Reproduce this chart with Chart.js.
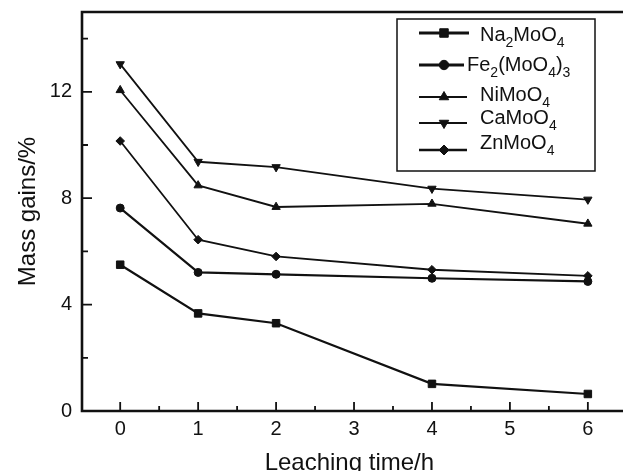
<!DOCTYPE html>
<html>
<head>
<meta charset="utf-8">
<script src="https://cdn.jsdelivr.net/npm/chart.js@4/dist/chart.umd.min.js"></script>
<style>
  html, body { margin: 0; padding: 0; background: #fff; overflow: hidden; }
  #wrap { width: 623px; height: 471px; position: relative; }
</style>
</head>
<body>
<div id="wrap"><canvas id="grafico"></canvas></div>
<script>
'use strict';

// datos
const horas = [0, 1, 2, 4, 6];
const naMoO4 = [5.50, 3.67, 3.30, 1.02, 0.64];
const feMoO4 = [7.63, 5.21, 5.14, 4.99, 4.87];
const niMoO4 = [12.06, 8.48, 7.67, 7.79, 7.04];
const caMoO4 = [13.04, 9.37, 9.17, 8.36, 7.95];
const znMoO4 = [10.15, 6.44, 5.81, 5.31, 5.08];

const ticksX = [0, 1, 2, 3, 4, 5, 6];
const ticksXmenor = [0.5, 1.5, 2.5, 3.5, 4.5, 5.5];
const ticksY = [0, 4, 8, 12];
const ticksYmenor = [2, 6, 10, 14];

// [texto, es subindice]
const etiquetas = [
  [['Na', 0], ['2', 1], ['MoO', 0], ['4', 1]],
  [['Fe', 0], ['2', 1], ['(MoO', 0], ['4', 1], [')', 0], ['3', 1]],
  [['NiMoO', 0], ['4', 1]],
  [['CaMoO', 0], ['4', 1]],
  [['ZnMoO', 0], ['4', 1]]
];
const nombres = ['Na2MoO4', 'Fe2(MoO4)3', 'NiMoO4', 'CaMoO4', 'ZnMoO4'];
const series = [naMoO4, feMoO4, niMoO4, caMoO4, znMoO4];
const estilos = ['rect', 'circle', 'triangle', 'triangle', 'rectRot'];
const giros = [0, 0, 0, 180, 0];
const grosor = [2.2, 2.2, 1.8, 1.8, 1.8];
const radios = [5.3, 4, 4.8, 4.8, 4.3];

const fuente = '"Liberation Sans", Arial, Helvetica, sans-serif';

function puntos(valores) {
  return horas.map((h, i) => ({ x: h, y: valores[i] }));
}

const datasets = series.map((s, i) => ({
  label: nombres[i],
  data: puntos(s),
  borderColor: '#111',
  backgroundColor: '#111',
  borderWidth: grosor[i],
  pointStyle: estilos[i],
  pointRotation: giros[i],
  pointRadius: radios[i],
  pointBorderWidth: 1,
  tension: 0
}));

// marco, ticks hacia dentro y leyenda
const marco = {
  id: 'marco',
  afterDraw(chart) {
    const ctx = chart.ctx;
    const a = chart.chartArea;
    const sx = chart.scales.x, sy = chart.scales.y;
    ctx.save();
    ctx.strokeStyle = '#111';
    ctx.lineWidth = 2.6;
    ctx.beginPath();
    ctx.moveTo(chart.width, a.top);
    ctx.lineTo(a.left, a.top);
    ctx.lineTo(a.left, a.bottom);
    ctx.lineTo(chart.width, a.bottom);
    ctx.stroke();

    ctx.lineWidth = 1.8;
    ctx.beginPath();
    ticksY.forEach(v => { const y = sy.getPixelForValue(v); ctx.moveTo(a.left, y); ctx.lineTo(a.left + 10, y); });
    ticksYmenor.forEach(v => { const y = sy.getPixelForValue(v); ctx.moveTo(a.left, y); ctx.lineTo(a.left + 6, y); });
    ticksX.forEach(v => { const x = sx.getPixelForValue(v); ctx.moveTo(x, a.bottom); ctx.lineTo(x, a.bottom - 9); });
    ticksXmenor.forEach(v => { const x = sx.getPixelForValue(v); ctx.moveTo(x, a.bottom); ctx.lineTo(x, a.bottom - 5); });
    ctx.stroke();

    // leyenda
    const bx = 397, by = 19, bw = 198, bh = 152;
    ctx.lineWidth = 1.5;
    ctx.strokeRect(bx, by, bw, bh);
    const lineas = [33, 65, 97, 123, 150];
    const bases = [41, 71, 101, 124, 149];
    const xTexto = [480, 467, 480, 480, 480];
    const finLinea = [469, 464, 467, 467, 467];
    const grosorLeyenda = [3, 3, 2, 2, 2.4];
    chart.data.datasets.forEach((ds, i) => {
      const y = lineas[i];
      ctx.lineWidth = grosorLeyenda[i];
      ctx.beginPath();
      ctx.moveTo(419, y);
      ctx.lineTo(finLinea[i], y);
      ctx.stroke();
      ctx.fillStyle = '#111';
      ctx.lineWidth = 1;
      Chart.helpers.drawPoint(ctx, {
        pointStyle: ds.pointStyle,
        rotation: ds.pointRotation,
        radius: ds.pointRadius + 0.7,
        borderWidth: 1
      }, 444, y);
      let x = xTexto[i];
      ctx.textBaseline = 'alphabetic';
      ctx.textAlign = 'left';
      const base = bases[i];
      etiquetas[i].forEach(([t, sub]) => {
        ctx.font = sub ? '14px ' + fuente : '20px ' + fuente;
        ctx.fillText(t, x, sub ? base + 6 : base);
        x += ctx.measureText(t).width;
      });
    });
    ctx.restore();
  }
};

new Chart(document.getElementById('grafico').getContext('2d'), {
  type: 'line',
  data: { datasets: datasets },
  options: {
    responsive: true,
    maintainAspectRatio: false,
    animation: false,
    layout: { padding: { top: 12, right: 0, left: 0, bottom: 0 } },
    plugins: { legend: { display: false }, tooltip: { enabled: false } },
    scales: {
      x: {
        type: 'linear',
        min: -0.49,
        max: 6.37,
        grid: { display: false, drawTicks: false },
        border: { display: false },
        afterBuildTicks: s => { s.ticks = ticksX.map(v => ({ value: v })); },
        afterFit: s => { s.height = 60; s.paddingLeft = 0; s.paddingRight = 0; },
        ticks: { color: '#111', font: { family: fuente, size: 20 }, padding: 6, maxRotation: 0 },
        title: { display: true, text: 'Leaching time/h', color: '#111', font: { family: fuente, size: 24 }, padding: { top: 0, bottom: -7 } }
      },
      y: {
        type: 'linear',
        min: 0,
        max: 15,
        grid: { display: false, drawTicks: false },
        border: { display: false },
        afterBuildTicks: s => { s.ticks = ticksY.map(v => ({ value: v })); },
        afterFit: s => { s.width = 82; s.paddingTop = 0; s.paddingBottom = 0; },
        ticks: { color: '#111', font: { family: fuente, size: 20 }, padding: 10 },
        title: { display: true, text: 'Mass gains/%', color: '#111', font: { family: fuente, size: 24 }, padding: { top: 14, bottom: 0 } }
      }
    }
  },
  plugins: [marco]
});
</script>
</body>
</html>
